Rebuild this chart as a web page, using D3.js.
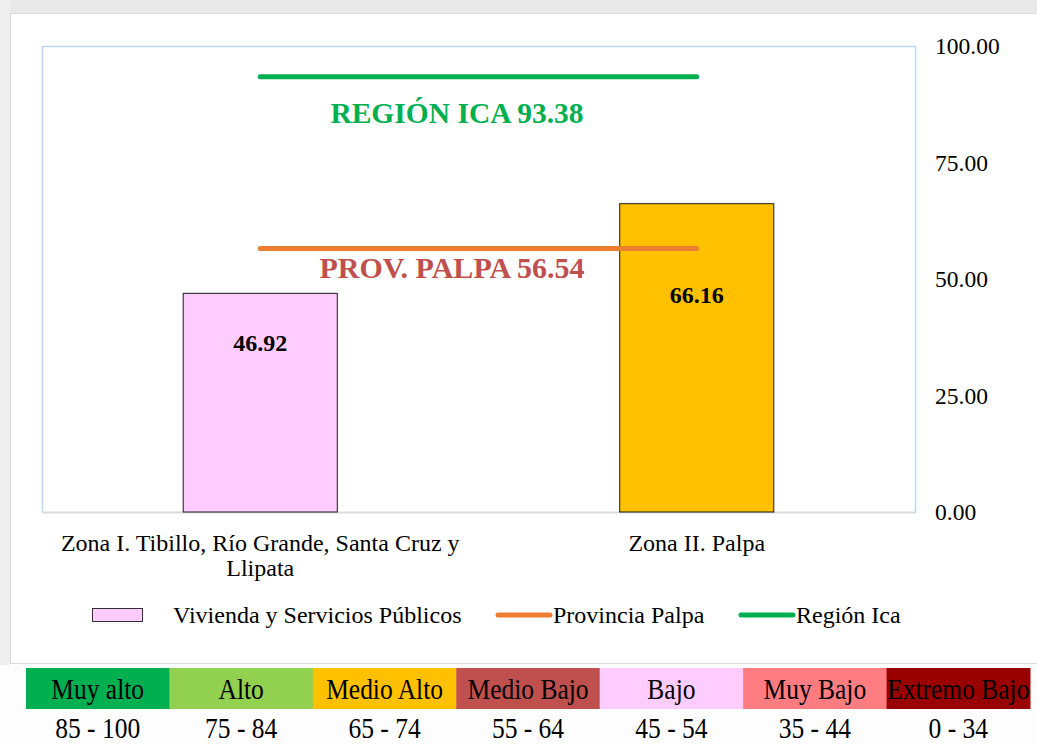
<!DOCTYPE html>
<html>
<head>
<meta charset="utf-8">
<script src="https://cdn.jsdelivr.net/npm/d3@7"></script>
<style>
  body { margin: 0; background: #fdfdfd; }
  svg { display: block; font-family: "Liberation Serif", "Times New Roman", serif; }
</style>
</head>
<body>
<div id="chart"></div>
<script>
// data
var categories = ["Zona I. Tibillo, Río Grande, Santa Cruz y Llipata", "Zona II. Palpa"];
var categoryLines = [["Zona I. Tibillo, Río Grande, Santa Cruz y", "Llipata"], ["Zona II. Palpa"]];
var values = [46.92, 66.16];
var barColors = ["#FFCCFF", "#FFC000"];
var provinceValue = 56.54;
var regionValue = 93.38;
var yTicks = [0, 25, 50, 75, 100];
var levelNames = ["Muy alto", "Alto", "Medio Alto", "Medio Bajo", "Bajo", "Muy Bajo", "Extremo Bajo"];
var levelRanges = ["85 - 100", "75 - 84", "65 - 74", "55 - 64", "45 - 54", "35 - 44", "0 - 34"];
var levelColors = ["#00B050", "#92D050", "#FFC000", "#C0504D", "#FFCCFF", "#FF7C80", "#990000"];

var svgWidth = 1037;
var svgHeight = 744;

var plot = { left: 42, right: 915, top: 46, bottom: 512 };

var svg = d3.select("#chart")
    .append("svg")
    .attr("width", svgWidth)
    .attr("height", svgHeight);

// page background / frame
svg.append("rect").attr("x", 0).attr("y", 0).attr("width", svgWidth).attr("height", 14).attr("fill", "#e9e9e9");
svg.append("rect").attr("x", 0).attr("y", 0).attr("width", 10).attr("height", 665).attr("fill", "#efefef");
svg.append("rect")
    .attr("x", 10.5).attr("y", 13.5)
    .attr("width", 1040).attr("height", 650)
    .attr("fill", "#fff")
    .attr("stroke", "#d9d9d9");

// plot area border
svg.append("rect")
    .attr("x", plot.left + 0.5).attr("y", plot.top + 0.5)
    .attr("width", plot.right - plot.left).attr("height", plot.bottom - plot.top)
    .attr("fill", "none")
    .attr("stroke", "#bdd7ee")
    .attr("stroke-width", 1.5);

var xScale = d3.scaleBand()
    .domain(categories)
    .range([plot.left, plot.right]);

var barWidth = xScale.bandwidth() * 0.353;

var yScale = d3.scaleLinear()
    .domain([0, 100])
    .range([plot.bottom, plot.top]);

// bottom line
svg.append("line")
    .attr("x1", plot.left).attr("x2", plot.right)
    .attr("y1", plot.bottom + 0.5).attr("y2", plot.bottom + 0.5)
    .attr("stroke", "#d9d9d9").attr("stroke-width", 1.5);

// right axis, labels only
var rightAxis = d3.axisRight(yScale)
    .tickValues(yTicks)
    .tickSize(0)
    .tickPadding(20)
    .tickFormat(d3.format(".2f"));

var axisG = svg.append("g")
    .attr("transform", `translate(${plot.right}, 0)`)
    .call(rightAxis);
axisG.select(".domain").remove();
axisG.selectAll("text")
    .style("font-family", "Liberation Serif")
    .style("font-size", "23.5px")
    .attr("fill", "#000");

// bars
svg.selectAll(".bar")
    .data(values)
    .enter()
    .append("rect")
    .attr("class", "bar")
    .attr("x", (d, i) => xScale(categories[i]) + xScale.bandwidth() / 2 - barWidth / 2)
    .attr("y", d => yScale(d))
    .attr("width", barWidth)
    .attr("height", d => plot.bottom - yScale(d))
    .attr("fill", (d, i) => barColors[i])
    .attr("stroke", "#1a1a1a")
    .attr("stroke-width", 1);

// bar value labels (placed by hand in the original)
var labelDrop = [58, 99];
svg.selectAll(".val")
    .data(values)
    .enter()
    .append("text")
    .attr("x", (d, i) => xScale(categories[i]) + xScale.bandwidth() / 2)
    .attr("y", (d, i) => yScale(d) + labelDrop[i])
    .attr("text-anchor", "middle")
    .style("font-size", "24px")
    .style("font-weight", "bold")
    .text(d => d.toFixed(2));

// reference lines between category centres
var lineX1 = xScale(categories[0]) + xScale.bandwidth() / 2;
var lineX2 = xScale(categories[1]) + xScale.bandwidth() / 2;

svg.append("line")
    .attr("x1", lineX1).attr("x2", lineX2)
    .attr("y1", yScale(regionValue)).attr("y2", yScale(regionValue))
    .attr("stroke", "#00B050").attr("stroke-width", 5).attr("stroke-linecap", "round");

svg.append("line")
    .attr("x1", lineX1).attr("x2", lineX2)
    .attr("y1", yScale(provinceValue)).attr("y2", yScale(provinceValue))
    .attr("stroke", "#ED7D31").attr("stroke-width", 5).attr("stroke-linecap", "round");

svg.append("text")
    .attr("x", 457)
    .attr("y", yScale(regionValue) + 46)
    .attr("text-anchor", "middle")
    .attr("fill", "#00B050")
    .style("font-size", "29.5px")
    .style("font-weight", "bold")
    .text("REGIÓN ICA " + regionValue.toFixed(2));

svg.append("text")
    .attr("x", 452)
    .attr("y", yScale(provinceValue) + 29)
    .attr("text-anchor", "middle")
    .attr("fill", "#C0504D")
    .style("font-size", "30px")
    .style("font-weight", "bold")
    .text("PROV. PALPA " + provinceValue.toFixed(2));

// category labels
categoryLines.forEach(function (lines, i) {
    var t = svg.append("text")
        .attr("text-anchor", "middle")
        .style("font-size", "24px");
    lines.forEach(function (ln, j) {
        t.append("tspan")
            .attr("x", xScale(categories[i]) + xScale.bandwidth() / 2)
            .attr("y", 551 + j * 25)
            .text(ln);
    });
});

// legend
var legend = svg.append("g").style("font-size", "24px");
legend.append("rect")
    .attr("x", 92.5).attr("y", 608.5).attr("width", 50).attr("height", 13)
    .attr("fill", "#FFCCFF").attr("stroke", "#333");
legend.append("text").attr("x", 173).attr("y", 623).text("Vivienda y Servicios Públicos");
legend.append("line")
    .attr("x1", 498).attr("x2", 550).attr("y1", 615).attr("y2", 615)
    .attr("stroke", "#ED7D31").attr("stroke-width", 5).attr("stroke-linecap", "round");
legend.append("text").attr("x", 553).attr("y", 623).text("Provincia Palpa");
legend.append("line")
    .attr("x1", 741).attr("x2", 793).attr("y1", 615).attr("y2", 615)
    .attr("stroke", "#00B050").attr("stroke-width", 5).attr("stroke-linecap", "round");
legend.append("text").attr("x", 796).attr("y", 623).text("Región Ica");

// level table
var levelScale = d3.scaleBand()
    .domain(levelNames)
    .range([26, 1030]);

var cells = svg.selectAll(".level")
    .data(levelNames)
    .enter()
    .append("g")
    .attr("class", "level");

cells.append("rect")
    .attr("x", d => levelScale(d))
    .attr("y", 668)
    .attr("width", levelScale.bandwidth() + 0.5)
    .attr("height", 41)
    .attr("fill", (d, i) => levelColors[i]);

cells.append("text")
    .attr("transform", d => `translate(${levelScale(d) + levelScale.bandwidth() / 2}, 699) scale(0.85, 1)`)
    .attr("text-anchor", "middle")
    .style("font-size", "30px")
    .text(d => d);

cells.append("text")
    .attr("transform", (d, i) => `translate(${levelScale(d) + levelScale.bandwidth() / 2}, 738) scale(0.85, 1)`)
    .attr("text-anchor", "middle")
    .style("font-size", "30px")
    .text((d, i) => levelRanges[i]);
</script>
</body>
</html>
